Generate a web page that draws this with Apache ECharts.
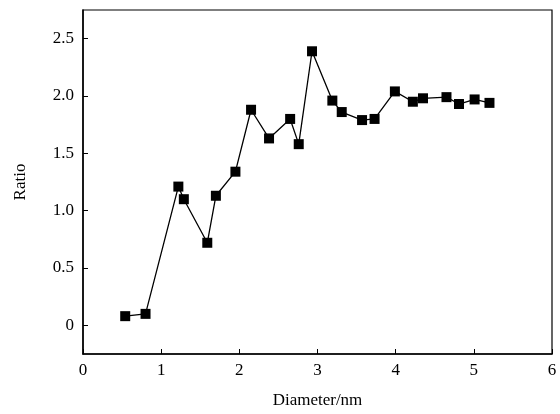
<!DOCTYPE html>
<html>
<head>
<meta charset="utf-8">
<script src="https://cdn.jsdelivr.net/npm/echarts@6/dist/echarts.min.js"></script>
<style>
  html, body { margin: 0; padding: 0; background: #fff; }
  #chart { width: 560px; height: 414px; }
</style>
</head>
<body>
<div id="chart"></div>
<script>
// Particle diameter (nm) and the measured ratio at each diameter
const diameters = [0.54, 0.80, 1.22, 1.29, 1.59, 1.70, 1.95, 2.15, 2.38, 2.65, 2.76, 2.93,
                   3.19, 3.31, 3.57, 3.73, 3.99, 4.22, 4.35, 4.65, 4.81, 5.01, 5.20];
const ratios    = [0.08, 0.10, 1.21, 1.10, 0.72, 1.13, 1.34, 1.88, 1.63, 1.80, 1.58, 2.39,
                   1.96, 1.86, 1.79, 1.80, 2.04, 1.95, 1.98, 1.99, 1.93, 1.97, 1.94];
const xTicks = [0, 1, 2, 3, 4, 5, 6];
const yTicks = [0, 0.5, 1.0, 1.5, 2.0, 2.5];

const points = diameters.map((d, i) => [d, ratios[i]]);
const font = '"Liberation Serif", "DejaVu Serif", serif';

const chart = echarts.init(document.getElementById('chart'), null, { renderer: 'canvas' });
chart.setOption({
  animation: false,
  backgroundColor: '#fff',
  grid: {
    left: 83, right: 8, top: 10, bottom: 59,
    show: true, borderColor: '#000', borderWidth: 1.2, backgroundColor: 'transparent'
  },
  xAxis: {
    type: 'value', min: 0, max: 6, interval: 1,
    name: 'Diameter/nm', nameLocation: 'middle', nameGap: 38,
    nameTextStyle: { fontFamily: font, fontSize: 17, color: '#000' },
    axisLine: { show: true, onZero: false, lineStyle: { color: '#000', width: 1.5 } },
    axisTick: { show: true, inside: true, length: 5, lineStyle: { color: '#000', width: 1 } },
    axisLabel: {
      fontFamily: font, fontSize: 17, color: '#000', margin: 8,
      formatter: v => xTicks.includes(v) ? String(v) : ''
    },
    splitLine: { show: false }
  },
  yAxis: {
    type: 'value', min: -0.25, max: 2.75,
    name: 'Ratio', nameLocation: 'middle', nameGap: 54,
    nameTextStyle: { fontFamily: font, fontSize: 17, color: '#000' },
    axisLine: { show: true, onZero: false, lineStyle: { color: '#000', width: 1.5 } },
    axisTick: {
      show: true, inside: true, length: 5, lineStyle: { color: '#000', width: 1 },
      customValues: yTicks
    },
    axisLabel: {
      fontFamily: font, fontSize: 17, color: '#000', margin: 9,
      customValues: yTicks,
      formatter: v => (v === 0 ? '0' : v.toFixed(1))
    },
    splitLine: { show: false }
  },
  series: [{
    type: 'line',
    data: points,
    symbol: 'rect',
    symbolSize: 10,
    itemStyle: { color: '#000' },
    lineStyle: { color: '#000', width: 1.3 }
  }]
});
</script>
</body>
</html>
